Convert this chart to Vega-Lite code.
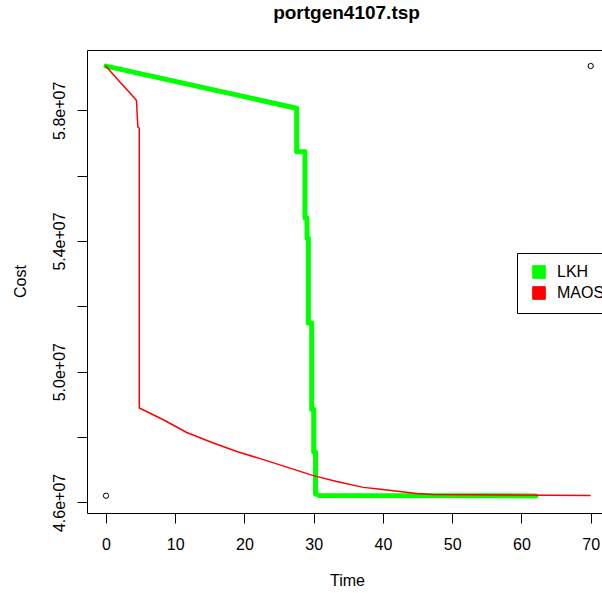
{
  "$schema": "https://vega.github.io/schema/vega-lite/v6.json",
  "width": 515,
  "height": 463,
  "autosize": {"type": "none"},
  "padding": {"left": 87, "top": 50, "right": 0, "bottom": 80},
  "background": "white",
  "config": {
    "view": {"stroke": null},
    "font": "Liberation Sans",
    "axis": {
      "grid": false,
      "domainColor": "black",
      "tickColor": "black",
      "labelColor": "black",
      "titleColor": "black",
      "labelFont": "Liberation Sans",
      "titleFont": "Liberation Sans",
      "labelFontSize": 16,
      "titleFontSize": 16,
      "titleFontWeight": "normal",
      "tickSize": 10,
      "domainWidth": 1,
      "tickWidth": 1,
      "labelOverlap": false,
      "labelFlush": false
    },
    "legend": {
      "orient": "none",
      "legendX": 430,
      "legendY": 203,
      "title": null,
      "strokeColor": "black",
      "fillColor": "white",
      "padding": 11,
      "symbolOffset": 3,
      "labelOffset": 10,
      "rowPadding": 3,
      "labelFont": "Liberation Sans",
      "labelFontSize": 16,
      "labelColor": "black",
      "symbolType": "square",
      "symbolSize": 160,
      "symbolStrokeWidth": 1,
      "symbolStrokeColor": "black",
      "symbolOpacity": 1
    }
  },
  "title": {
    "text": "portgen4107.tsp",
    "font": "Liberation Sans",
    "fontSize": 19,
    "fontWeight": "bold",
    "color": "black",
    "anchor": "middle",
    "baseline": "alphabetic",
    "offset": 12,
    "dx": 2
  },
  "datasets": {
    "runs": [
      {"series": "LKH", "time": 0, "cost": 59350000},
      {"series": "LKH", "time": 27.54, "cost": 58060000},
      {"series": "LKH", "time": 27.54, "cost": 56730000},
      {"series": "LKH", "time": 28.74, "cost": 56730000},
      {"series": "LKH", "time": 28.74, "cost": 54700000},
      {"series": "LKH", "time": 29.03, "cost": 54700000},
      {"series": "LKH", "time": 29.03, "cost": 54090000},
      {"series": "LKH", "time": 29.22, "cost": 54090000},
      {"series": "LKH", "time": 29.22, "cost": 51490000},
      {"series": "LKH", "time": 29.71, "cost": 51490000},
      {"series": "LKH", "time": 29.71, "cost": 48850000},
      {"series": "LKH", "time": 30.0, "cost": 48850000},
      {"series": "LKH", "time": 30.0, "cost": 47540000},
      {"series": "LKH", "time": 30.26, "cost": 47540000},
      {"series": "LKH", "time": 30.26, "cost": 46260000},
      {"series": "LKH", "time": 30.8, "cost": 46210000},
      {"series": "LKH", "time": 62.1, "cost": 46200000},
      {"series": "MAOS", "time": 0, "cost": 59350000},
      {"series": "MAOS", "time": 2.1, "cost": 58840000},
      {"series": "MAOS", "time": 3.5, "cost": 58520000},
      {"series": "MAOS", "time": 4.4, "cost": 58300000},
      {"series": "MAOS", "time": 4.6, "cost": 57490000},
      {"series": "MAOS", "time": 4.81, "cost": 57450000},
      {"series": "MAOS", "time": 4.81, "cost": 48890000},
      {"series": "MAOS", "time": 8.28, "cost": 48530000},
      {"series": "MAOS", "time": 11.65, "cost": 48140000},
      {"series": "MAOS", "time": 15.5, "cost": 47820000},
      {"series": "MAOS", "time": 18.88, "cost": 47560000},
      {"series": "MAOS", "time": 22.72, "cost": 47310000},
      {"series": "MAOS", "time": 26.57, "cost": 47050000},
      {"series": "MAOS", "time": 29.94, "cost": 46820000},
      {"series": "MAOS", "time": 33.32, "cost": 46640000},
      {"series": "MAOS", "time": 37.16, "cost": 46460000},
      {"series": "MAOS", "time": 39.33, "cost": 46410000},
      {"series": "MAOS", "time": 44.87, "cost": 46270000},
      {"series": "MAOS", "time": 47.2, "cost": 46240000},
      {"series": "MAOS", "time": 69.9, "cost": 46210000}
    ],
    "frame": [
      {"time": 0, "cost": 46205000},
      {"time": 70, "cost": 59355000}
    ]
  },
  "layer": [
    {
      "data": {"name": "runs"},
      "transform": [{"filter": "datum.series == 'LKH'"}],
      "mark": {"type": "line", "clip": true, "strokeWidth": 5, "strokeJoin": "round", "strokeCap": "round"},
      "encoding": {
        "x": {
          "field": "time",
          "type": "quantitative",
          "scale": {"domain": [-2.744, 71.63], "nice": false, "zero": false},
          "axis": {
            "values": [0, 10, 20, 30, 40, 50, 60, 70],
            "title": "Time",
            "labelBaseline": "middle",
            "labelPadding": 21,
            "titleBaseline": "middle",
            "titleAlign": "center",
            "titleX": 260,
            "titleY": 67
          }
        },
        "y": {
          "field": "cost",
          "type": "quantitative",
          "scale": {"domain": [45676000, 59844000], "nice": false, "zero": false},
          "axis": {
            "values": [46000000, 48000000, 50000000, 52000000, 54000000, 56000000, 58000000],
            "labelExpr": "datum.value == 46000000 ? '4.6e+07' : datum.value == 50000000 ? '5.0e+07' : datum.value == 54000000 ? '5.4e+07' : datum.value == 58000000 ? '5.8e+07' : ''",
            "labelAngle": -90,
            "labelAlign": "center",
            "labelBaseline": "middle",
            "labelPadding": 18,
            "title": "Cost",
            "titleAngle": -90,
            "titleAlign": "center",
            "titleBaseline": "middle",
            "titleX": -67,
            "titleY": 231
          }
        },
        "color": {
          "field": "series",
          "type": "nominal",
          "scale": {"domain": ["LKH", "MAOS"], "range": ["#00ff00", "#ff0000"]},
          "legend": {
            "encode": {
              "symbols": {
                "enter": {
                  "stroke": {"value": "black"},
                  "strokeWidth": {"value": 1}
                },
                "update": {
                  "fill": {"scale": "color", "field": "value"},
                  "stroke": {"value": "black"},
                  "strokeWidth": {"value": 1},
                  "opacity": {"value": 1}
                }
              }
            }
          }
        }
      }
    },
    {
      "data": {"name": "runs"},
      "transform": [{"filter": "datum.series == 'MAOS'"}],
      "mark": {"type": "line", "clip": true, "strokeWidth": 1.5, "strokeJoin": "round", "strokeCap": "round"},
      "encoding": {
        "x": {"field": "time", "type": "quantitative", "axis": null},
        "y": {"field": "cost", "type": "quantitative"},
        "color": {"field": "series", "type": "nominal"}
      }
    },
    {
      "data": {"name": "frame"},
      "mark": {"type": "point", "shape": "circle", "filled": false, "color": "black", "size": 28, "strokeWidth": 1, "opacity": 1},
      "encoding": {
        "x": {
          "field": "time",
          "type": "quantitative",
          "axis": {"orient": "top", "labels": false, "ticks": false, "domain": true, "title": null, "grid": false}
        },
        "y": {"field": "cost", "type": "quantitative"}
      }
    }
  ],
  "resolve": {"axis": {"x": "independent"}}
}
